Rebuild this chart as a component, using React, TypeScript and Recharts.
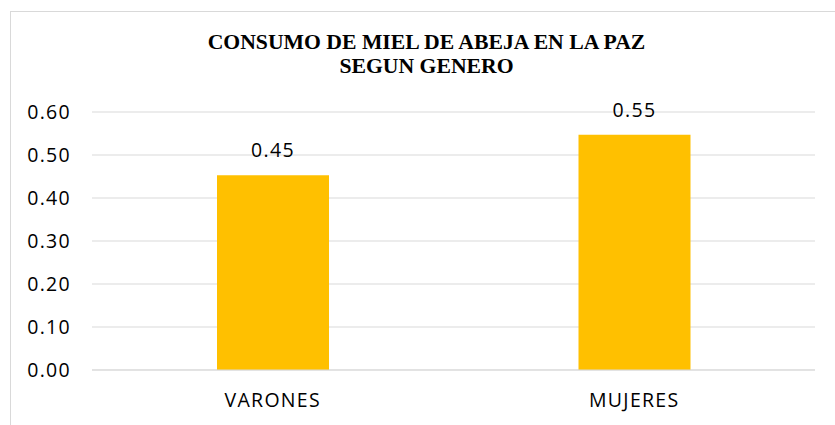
import React from "react";
import { BarChart, Bar, XAxis, YAxis, CartesianGrid, LabelList } from "recharts";

const generos = ["VARONES", "MUJERES"];
const consumo = [0.453, 0.547];
const yTicks = [0, 0.1, 0.2, 0.3, 0.4, 0.5, 0.6];

const data = generos.map((genero, i) => ({ genero, consumo: consumo[i] }));

const tickFont = {
  fontFamily: "'Open Sans', sans-serif",
  fontSize: 19.5,
  letterSpacing: 1.3,
  fill: "#000",
};

const App = () => (
  <div style={{ position: "absolute", left: 0, top: 0, width: 835, height: 425, overflow: "hidden", background: "#fff" }}>
    <div
      style={{
        position: "absolute",
        left: 9.5,
        top: 10.5,
        width: 900,
        height: 500,
        border: "1px solid #d9d9d9",
      }}
    />
    <div
      style={{
        position: "absolute",
        left: 0,
        top: 30,
        width: 853,
        textAlign: "center",
        fontFamily: "'Liberation Serif', 'Times New Roman', serif",
        fontWeight: "bold",
        fontSize: 21.7,
        lineHeight: "24px",
        color: "#000",
      }}
    >
      CONSUMO DE MIEL DE ABEJA EN LA PAZ
      <br />
      SEGUN GENERO
    </div>
    <div style={{ position: "absolute", left: 0, top: 0 }}>
      <BarChart width={835} height={425} data={data} margin={{ top: 112, right: 20, bottom: 25, left: 0 }}>
        <CartesianGrid vertical={false} stroke="#d9d9d9" />
        <XAxis
          dataKey="genero"
          height={30}
          axisLine={{ stroke: "#d9d9d9" }}
          tickLine={false}
          tickMargin={17}
          tick={tickFont}
        />
        <YAxis
          width={92}
          domain={[0, 0.6]}
          ticks={yTicks}
          axisLine={false}
          tickLine={false}
          tickMargin={15}
          tick={tickFont}
          tickFormatter={(v: number) => v.toFixed(2)}
        />
        <Bar dataKey="consumo" fill="#FFC000" barSize={112} isAnimationActive={false}>
          <LabelList
            dataKey="consumo"
            position="top"
            offset={18}
            formatter={(v: number) => v.toFixed(2)}
            style={{ ...tickFont }}
          />
        </Bar>
      </BarChart>
    </div>
  </div>
);

export default App;
